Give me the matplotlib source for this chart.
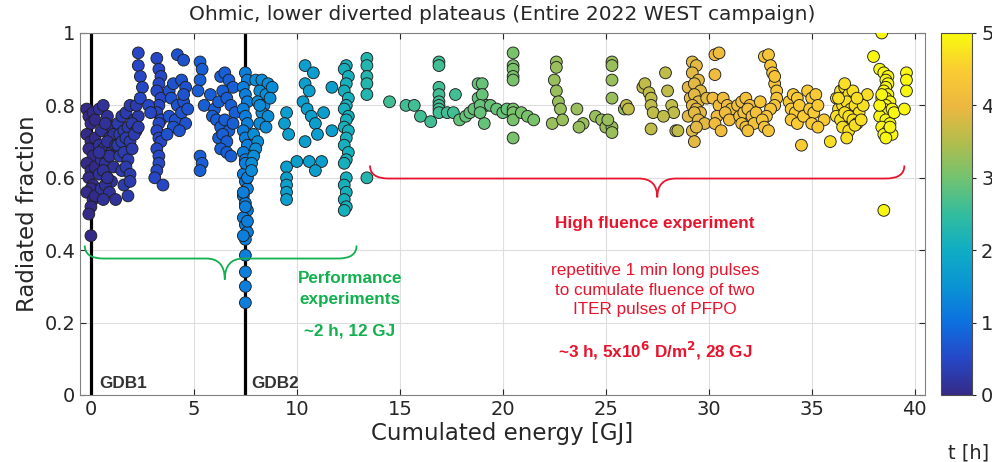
import numpy as np
import matplotlib
matplotlib.use('Agg')
import matplotlib.pyplot as plt
from matplotlib.colors import LinearSegmentedColormap
from matplotlib.path import Path
from matplotlib.patches import PathPatch

# Dati: gruppi di punti (energia cumulata [GJ], frazione radiata, tempo [h])
grp_t = [0.03, 0.15, 0.3, 0.5, 0.65, 0.8, 1.2, 1.4, 1.7, 2.1, 2.3, 2.6, 2.9, 3.05,
         3.3, 3.6, 3.9, 4.1, 4.2, 4.3, 4.45, 4.7, 4.95]

grp_x = [
    [-0.2, -0.1, 0.0, 0.1, 0.2, -0.2, 0.0, 0.2, -0.1, 0.1, -0.2, 0.0, 0.2, -0.1, 0.1, 0.0, -0.2, 0.1, 0.0, 0.2, -0.1, 0.0],
    [0.4, 0.6, 0.8, 1.0, 0.5, 0.7, 0.9, 1.1, 0.4, 0.6, 0.8, 1.0, 1.2, 0.5, 0.7, 0.9, 1.1, 0.4, 0.6, 0.8, 1.0, 0.5, 0.7, 0.9, 0.6, 0.8, 1.2, 0.4],
    [1.3, 1.5, 1.7, 1.9, 2.1, 2.3, 1.4, 1.6, 1.8, 2.0, 2.2, 1.3, 1.5, 1.7, 1.9, 2.1, 2.3, 1.4, 1.6, 1.8, 2.0, 1.5, 1.7, 1.9, 1.6, 1.9, 1.8, 2.2],
    [2.3, 2.3, 2.4, 2.5, 2.4, 3.2, 3.3, 3.4, 3.3, 3.2, 3.4, 3.3, 3.2, 3.4, 3.3, 3.2, 3.3, 3.4, 3.2, 3.3, 3.3, 3.2, 3.1, 3.5, 2.8, 2.9],
    [4.2, 4.5, 3.8, 4.0, 4.4, 4.6, 3.9, 4.2, 4.5, 3.8, 4.1, 4.4, 4.6, 4.0, 4.3, 3.7, 4.5, 4.7],
    [5.3, 5.4, 5.3, 5.2, 5.5, 5.3, 5.4, 5.3, 5.8, 6.0, 6.3, 6.5, 6.7, 6.9, 5.9, 6.2, 6.4, 6.6, 6.8, 7.0, 6.1, 6.3, 6.5, 6.7, 6.2, 6.4, 6.6, 6.9, 6.3, 6.6, 6.8],
    [7.5, 7.6, 7.4, 7.5, 7.6, 7.4, 7.5, 7.6, 7.4, 7.5, 7.6, 7.4, 7.5, 7.6, 7.4, 7.5, 7.6, 7.4, 7.5, 7.6, 7.4, 7.5, 7.6, 7.5, 7.4, 7.6, 7.5, 7.4, 7.6, 7.5, 7.5, 7.5, 7.5, 7.5],
    [8.0, 8.3, 8.6, 8.2, 8.5, 8.8, 8.1, 8.4, 8.7, 8.3, 8.6, 8.2, 8.5, 7.9, 8.1, 8.0, 7.9, 7.8, 7.8, 8.2],
    [9.5, 9.4, 9.6, 9.5, 9.5, 9.5, 9.5, 9.5, 10.0, 10.6, 11.2, 10.9, 10.4, 10.4, 10.3, 10.8, 10.6, 10.5, 10.7, 10.9, 11.0, 10.4, 11.7, 11.7, 11.3],
    [12.4, 12.3, 12.5, 12.4, 12.3, 12.5, 12.4, 12.3, 12.5, 12.4, 12.3, 12.5, 12.4, 12.3, 12.5, 12.4, 12.3, 12.4, 12.3, 12.4, 12.3, 12.4, 12.3],
    [13.4, 13.4, 13.4, 13.4, 13.4, 13.4],
    [14.5, 15.3, 15.7, 16.0, 16.5, 16.9, 16.9, 16.9, 16.9, 16.9, 16.9, 16.9, 16.9, 17.3, 17.6, 17.7],
    [17.9, 18.2, 18.4, 18.6, 18.8, 19.0, 18.8, 19.0, 19.2, 18.9, 19.1, 19.4, 19.7, 20.0, 20.2, 18.9],
    [20.5, 20.5, 20.5, 20.5, 20.5, 20.5, 20.5, 20.5, 20.5, 20.9, 21.2, 21.5],
    [22.6, 22.6, 22.5, 22.6, 22.7, 22.8, 22.4, 22.9, 23.6, 23.9, 23.7, 24.5, 24.8, 25.0, 25.3, 25.3, 25.3, 25.3, 25.3, 25.3, 25.9, 25.1],
    [26.0, 26.1, 26.8, 26.9, 27.1, 27.2, 27.2, 27.3, 27.2, 27.9, 28.0, 28.2, 28.3, 28.4, 28.5, 27.8],
    [29.2, 29.4, 29.2, 29.5, 29.0, 29.3, 29.6, 29.1, 29.3, 29.5, 29.2, 29.4, 29.6, 29.0, 29.3, 29.5, 29.8, 29.2, 29.4, 29.3, 29.9],
    [30.3, 30.5, 30.3, 30.2, 30.5, 30.4, 30.7, 30.9, 31.1, 30.8, 31.0, 30.3, 30.6],
    [31.4, 31.6, 31.8, 32.0, 31.5, 31.7, 31.9, 32.1, 32.3, 31.6, 31.8, 32.2, 31.9],
    [32.7, 32.9, 33.0, 33.1, 33.2, 33.3, 33.3, 33.2, 33.0, 32.8, 32.6, 32.7, 32.9, 33.2, 32.5],
    [33.9, 34.1, 34.3, 34.0, 34.2, 34.4, 34.0, 34.3, 34.6, 34.5, 34.8, 35.0, 35.2, 34.9, 35.1, 35.3, 35.0, 35.6, 35.3],
    [35.9, 36.2, 36.4, 36.6, 36.8, 37.0, 36.3, 36.5, 36.7, 36.9, 37.1, 37.3, 36.2, 36.4, 36.6, 36.8, 37.0, 37.2, 36.5, 36.8, 37.1, 37.4, 36.3, 36.7, 37.5, 37.7, 36.6, 37.2],
    [38.0, 38.4, 38.3, 38.5, 38.7, 38.6, 38.7, 38.6, 38.5, 38.7, 38.6, 38.4, 38.8, 38.6, 38.5, 38.7, 38.9, 38.3, 38.6, 38.8, 38.4, 38.7, 38.5, 38.9, 39.0, 38.3, 39.6, 39.6, 39.6, 39.5, 38.5, 38.6, 38.8, 38.4],
]

grp_y = [
    [0.79, 0.77, 0.75, 0.78, 0.76, 0.72, 0.70, 0.71, 0.68, 0.66, 0.64, 0.62, 0.63, 0.60, 0.58, 0.57, 0.56, 0.54, 0.52, 0.55, 0.50, 0.44],
    [0.79, 0.80, 0.77, 0.74, 0.73, 0.75, 0.71, 0.72, 0.69, 0.68, 0.70, 0.67, 0.69, 0.65, 0.64, 0.66, 0.63, 0.61, 0.62, 0.60, 0.59, 0.57, 0.58, 0.56, 0.54, 0.60, 0.54, 0.67],
    [0.75, 0.77, 0.78, 0.80, 0.76, 0.77, 0.72, 0.73, 0.74, 0.75, 0.73, 0.69, 0.70, 0.71, 0.70, 0.72, 0.74, 0.66, 0.67, 0.65, 0.68, 0.62, 0.63, 0.61, 0.58, 0.59, 0.55, 0.80],
    [0.945, 0.91, 0.88, 0.85, 0.82, 0.93, 0.90, 0.88, 0.86, 0.84, 0.82, 0.80, 0.78, 0.76, 0.75, 0.73, 0.71, 0.70, 0.68, 0.66, 0.64, 0.62, 0.60, 0.58, 0.80, 0.78],
    [0.94, 0.925, 0.84, 0.86, 0.87, 0.85, 0.82, 0.80, 0.81, 0.77, 0.76, 0.78, 0.75, 0.74, 0.73, 0.72, 0.83, 0.79],
    [0.92, 0.90, 0.87, 0.84, 0.80, 0.66, 0.64, 0.62, 0.83, 0.79, 0.88, 0.89, 0.87, 0.85, 0.77, 0.81, 0.84, 0.82, 0.80, 0.78, 0.76, 0.74, 0.76, 0.73, 0.71, 0.72, 0.70, 0.75, 0.68, 0.67, 0.66],
    [0.89, 0.87, 0.85, 0.83, 0.81, 0.79, 0.77, 0.75, 0.73, 0.71, 0.69, 0.67, 0.65, 0.63, 0.61, 0.59, 0.57, 0.55, 0.53, 0.51, 0.49, 0.47, 0.45, 0.43, 0.44, 0.48, 0.52, 0.56, 0.60, 0.64, 0.386, 0.34, 0.30, 0.255],
    [0.87, 0.87, 0.86, 0.84, 0.83, 0.85, 0.81, 0.80, 0.82, 0.78, 0.77, 0.75, 0.74, 0.72, 0.70, 0.68, 0.66, 0.64, 0.62, 0.80],
    [0.78, 0.75, 0.72, 0.63, 0.60, 0.58, 0.56, 0.54, 0.645, 0.645, 0.645, 0.62, 0.91, 0.86, 0.81, 0.89, 0.84, 0.79, 0.77, 0.75, 0.72, 0.70, 0.85, 0.73, 0.78],
    [0.91, 0.90, 0.88, 0.86, 0.84, 0.82, 0.80, 0.79, 0.77, 0.76, 0.74, 0.73, 0.71, 0.69, 0.67, 0.65, 0.64, 0.60, 0.58, 0.56, 0.54, 0.52, 0.51],
    [0.93, 0.91, 0.88, 0.86, 0.83, 0.60],
    [0.81, 0.80, 0.80, 0.77, 0.755, 0.92, 0.91, 0.85, 0.83, 0.81, 0.80, 0.79, 0.78, 0.78, 0.78, 0.83],
    [0.76, 0.77, 0.78, 0.79, 0.86, 0.86, 0.82, 0.83, 0.80, 0.80, 0.75, 0.80, 0.79, 0.78, 0.79, 0.78],
    [0.945, 0.91, 0.90, 0.88, 0.87, 0.79, 0.78, 0.76, 0.71, 0.78, 0.77, 0.76],
    [0.92, 0.905, 0.87, 0.84, 0.81, 0.79, 0.75, 0.76, 0.79, 0.75, 0.74, 0.77, 0.76, 0.74, 0.92, 0.91, 0.87, 0.82, 0.74, 0.725, 0.79, 0.76],
    [0.80, 0.79, 0.85, 0.86, 0.835, 0.82, 0.80, 0.78, 0.735, 0.89, 0.84, 0.80, 0.78, 0.73, 0.73, 0.77],
    [0.92, 0.91, 0.89, 0.87, 0.85, 0.86, 0.84, 0.82, 0.83, 0.81, 0.80, 0.79, 0.78, 0.77, 0.78, 0.76, 0.75, 0.73, 0.74, 0.70, 0.82],
    [0.94, 0.945, 0.885, 0.82, 0.80, 0.77, 0.82, 0.80, 0.79, 0.78, 0.76, 0.75, 0.73],
    [0.80, 0.81, 0.82, 0.80, 0.77, 0.78, 0.79, 0.77, 0.78, 0.75, 0.74, 0.75, 0.73],
    [0.935, 0.94, 0.91, 0.89, 0.86, 0.84, 0.82, 0.80, 0.79, 0.77, 0.76, 0.74, 0.73, 0.88, 0.81],
    [0.81, 0.83, 0.82, 0.79, 0.78, 0.80, 0.76, 0.75, 0.77, 0.69, 0.84, 0.82, 0.83, 0.79, 0.78, 0.80, 0.75, 0.76, 0.74],
    [0.70, 0.82, 0.84, 0.85, 0.83, 0.84, 0.79, 0.80, 0.81, 0.79, 0.80, 0.78, 0.77, 0.76, 0.78, 0.77, 0.76, 0.75, 0.74, 0.73, 0.745, 0.76, 0.82, 0.71, 0.80, 0.83, 0.86, 0.82],
    [0.935, 1.0, 0.90, 0.89, 0.88, 0.87, 0.86, 0.85, 0.84, 0.83, 0.82, 0.82, 0.81, 0.80, 0.79, 0.78, 0.79, 0.77, 0.76, 0.75, 0.74, 0.73, 0.72, 0.72, 0.78, 0.80, 0.89, 0.87, 0.84, 0.79, 0.51, 0.71, 0.74, 0.83],
]

# colormap tipo parula (MATLAB)
parula_pts = [(0.208, 0.166, 0.529), (0.150, 0.280, 0.780), (0.050, 0.440, 0.880),
              (0.040, 0.580, 0.830), (0.060, 0.680, 0.770), (0.200, 0.740, 0.620),
              (0.450, 0.760, 0.440), (0.700, 0.740, 0.300), (0.930, 0.720, 0.250),
              (0.980, 0.800, 0.200), (0.976, 0.983, 0.054)]
parula = LinearSegmentedColormap.from_list('parula', parula_pts)

x, y, t = [], [], []
for gx, gy, gt in zip(grp_x, grp_y, grp_t):
    x += gx
    y += gy
    t += [gt] * len(gx)

grey = (0.15, 0.15, 0.15)
fig = plt.figure(figsize=(9.92, 4.62), dpi=100)
ax = fig.add_axes([80/992, 1-395/462, 845/992, 362/462])

ax.grid(True, color='0.87', linewidth=0.8)
ax.set_axisbelow(True)
ax.axvline(0, color='black', lw=2.3, zorder=1)
ax.axvline(7.5, color='black', lw=2.3, zorder=1)

sc = ax.scatter(x, y, c=t, cmap=parula, vmin=0, vmax=5, s=72,
                edgecolors='0.12', linewidths=0.65, zorder=3)

ax.set_xlim(-0.53, 40.5)
ax.set_ylim(0, 1)
ax.set_xticks(range(0, 41, 5))
ax.set_yticks([0, 0.2, 0.4, 0.6, 0.8, 1])
ax.set_yticklabels(['0', '0.2', '0.4', '0.6', '0.8', '1'])
ax.tick_params(direction='in', top=True, right=True, labelsize=14, colors=grey, length=4)
for s in ax.spines.values():
    s.set_color('0.5')

ax.set_title('Ohmic, lower diverted plateaus (Entire 2022 WEST campaign)', fontsize=14.5,
             color=grey, pad=9)
ax.set_xlabel('Cumulated energy [GJ]', fontsize=16.5, color=grey, labelpad=2)
ax.set_ylabel('Radiated fraction', fontsize=16.5, color=grey, labelpad=4)


def graffa(x0, x1, xm, ytop, ymid, ytip, col, dx=0.9):
    verts = [(x0, ytop), (x0, ymid), (x0 + dx, ymid), (xm - dx, ymid),
             (xm, ymid), (xm, ytip), (xm, ymid), (xm + dx, ymid),
             (x1 - dx, ymid), (x1, ymid), (x1, ytop)]
    codes = [Path.MOVETO, Path.CURVE3, Path.CURVE3, Path.LINETO,
             Path.CURVE3, Path.CURVE3, Path.CURVE3, Path.CURVE3,
             Path.LINETO, Path.CURVE3, Path.CURVE3]
    ax.add_patch(PathPatch(Path(verts, codes), fill=False, edgecolor=col, lw=1.3, zorder=4))


verde = '#12B04F'
rosso = '#E8142D'
graffa(-0.3, 12.9, 6.5, 0.413, 0.377, 0.319, verde)
graffa(13.55, 39.5, 27.5, 0.634, 0.598, 0.546, rosso)

ff = 'Liberation Sans'
fs = 12.3
ax.text(12.6, 0.294, 'Performance\nexperiments', ha='center', va='center', color=verde,
        fontsize=fs, fontweight='bold', family=ff, linespacing=1.5)
ax.text(12.57, 0.177, '~2 h, 12 GJ', ha='center', va='center', color=verde,
        fontsize=fs, fontweight='bold', family=ff)
ax.text(27.4, 0.474, 'High fluence experiment', ha='center', va='center', color=rosso,
        fontsize=fs, fontweight='bold', family=ff)
ax.text(27.4, 0.29, 'repetitive 1 min long pulses\nto cumulate fluence of two\nITER pulses of PFPO',
        ha='center', va='center', color=rosso, fontsize=fs, family=ff, linespacing=1.4)
ax.text(27.4, 0.122, r'~3 h, 5x10$^\mathbf{6}$ D/m$^\mathbf{2}$, 28 GJ', ha='center', va='center',
        color=rosso, fontsize=fs, fontweight='bold', family=ff)
ax.text(0.39, 0.033, 'GDB1', ha='left', va='center', color='0.2', fontsize=12.3,
        fontweight='bold', family=ff)
ax.text(7.8, 0.033, 'GDB2', ha='left', va='center', color='0.2', fontsize=12.3,
        fontweight='bold', family=ff)

cax = fig.add_axes([941/992, 1-395/462, 31/992, 362/462])
cb = fig.colorbar(sc, cax=cax, ticks=range(6))
cb.ax.tick_params(labelsize=14, colors=grey, direction='out', length=3)
cb.outline.set_edgecolor('0.3')
fig.text(969/992, 1-453/462, 't [h]', ha='center', va='center', fontsize=14, color=grey)

fig.savefig('out.png', dpi=100)
